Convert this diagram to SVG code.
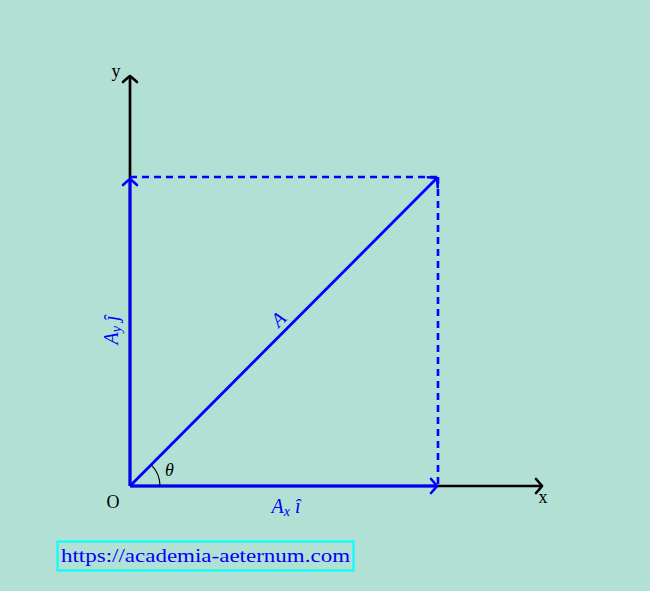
<svg xmlns="http://www.w3.org/2000/svg" width="650" height="591" viewBox="0 0 650 591">
<defs>
<style>
.ax{stroke:#000;stroke-width:2.7;fill:none}
.bl{stroke:#0000ff;stroke-width:2.8;fill:none}
.dash{stroke:#0000ff;stroke-width:2.6;fill:none;stroke-dasharray:7,5}
.t{font-family:"Liberation Serif","DejaVu Serif",serif;font-size:18px}
.ti{font-family:"Liberation Serif","DejaVu Serif",serif;font-size:20px;font-style:italic;fill:#0000ff}
</style>
<marker id="ak" markerUnits="userSpaceOnUse" markerWidth="20" markerHeight="20" viewBox="-10 -10 20 20" refX="0" refY="0" orient="auto">
<path d="M-6,-7 Q-1,-1.5 0,0 Q-1,1.5 -6,7" stroke="#000" stroke-width="2.6" fill="none" stroke-linecap="round"/>
</marker>
<marker id="ab" markerUnits="userSpaceOnUse" markerWidth="20" markerHeight="20" viewBox="-10 -10 20 20" refX="0" refY="0" orient="auto">
<path d="M-6,-7 Q-1,-1.5 0,0 Q-1,1.5 -6,7" stroke="#0000ff" stroke-width="2.6" fill="none" stroke-linecap="round"/>
</marker>
</defs>
<rect width="650" height="591" fill="#b2e0d4"/>
<g id="connectors">
<line class="ax" x1="130" y1="486" x2="130" y2="76" marker-end="url(#ak)"/>
<line class="ax" x1="130" y1="486" x2="542" y2="486" marker-end="url(#ak)"/>
<line class="dash" x1="130" y1="177" x2="438" y2="177"/>
<line class="dash" x1="438" y1="177" x2="438" y2="486"/>
<line class="bl" x1="130" y1="486" x2="130" y2="179" marker-end="url(#ab)"/>
<line class="bl" x1="130" y1="486" x2="437" y2="486" marker-end="url(#ab)"/>
<line class="bl" x1="130" y1="486" x2="437" y2="178" marker-end="url(#ab)"/>
<path d="M160,486 A30,30 0 0 0 151.2,464.8" stroke="#000" stroke-width="1.2" fill="none"/>
</g>
<g id="labels">
<text class="t" x="116" y="77" text-anchor="middle">y</text>
<text class="t" x="543" y="503" text-anchor="middle">x</text>
<text class="t" x="113" y="508" text-anchor="middle">O</text>
<text class="t" x="165" y="476" font-style="italic">θ</text>
<text class="ti" x="286" y="513" text-anchor="middle">A<tspan font-size="14" dy="3">x</tspan><tspan dy="-3"> î</tspan></text>
<text class="ti" transform="translate(118,330) rotate(-90)" text-anchor="middle">A<tspan font-size="14" dy="3">y</tspan><tspan dy="-3"> ĵ</tspan></text>
<text class="ti" transform="translate(283,324) rotate(-45)" text-anchor="middle">A</text>
</g>
<g id="link">
<rect x="57.5" y="541.5" width="296" height="29" fill="none" stroke="#00ffff" stroke-width="2"/>
<text class="t" x="61" y="562" fill="#0000ff" font-size="20" textLength="289" lengthAdjust="spacingAndGlyphs">https://academia-aeternum.com</text>
</g>
</svg>
